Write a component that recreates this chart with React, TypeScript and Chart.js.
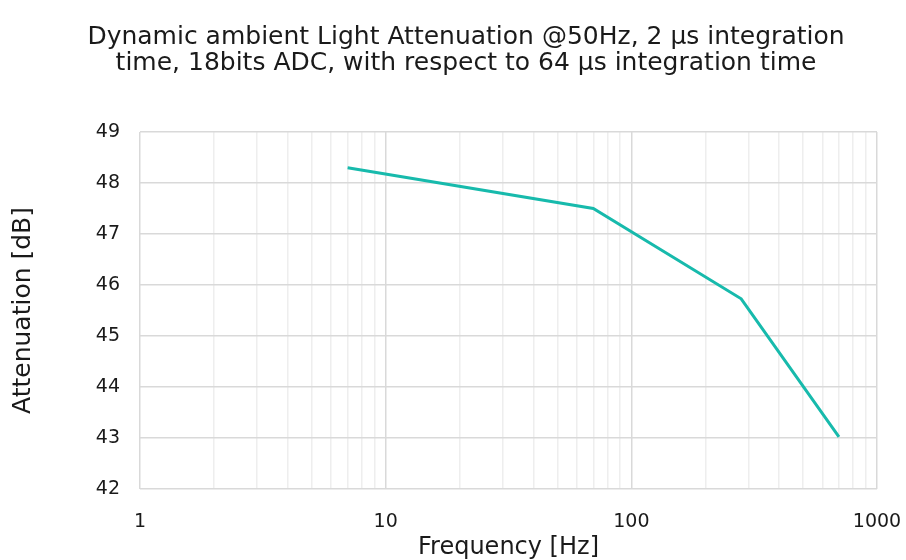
import React, { useEffect, useRef } from "react";
import { Chart, registerables } from "chart.js";

Chart.register(...registerables);

const frequencies = [7, 70, 280, 700];
const attenuation = [48.3, 47.5, 45.73, 43.02];
const titleLines = [
  "Dynamic ambient Light Attenuation @50Hz, 2 µs integration",
  "time, 18bits ADC, with respect to 64 µs integration time",
];
const xTitle = "Frequency [Hz]";
const yTitle = "Attenuation [dB]";
const xMin = 1;
const xMax = 1000;
const yMin = 42;
const yMax = 49;

const FONT = "'DejaVu Sans', 'Noto Sans', sans-serif";
const LINE_COLOR = "#17baac";
const TEXT_COLOR = "#1a1a1a";

function logTicks(min: number, max: number): number[] {
  const out: number[] = [];
  for (let p = min; p < max; p *= 10) {
    for (let s = 1; s <= 9; s++) out.push(p * s);
  }
  out.push(max);
  return out;
}

const isDecade = (v: number) => Math.abs(Math.log10(v) - Math.round(Math.log10(v))) < 1e-9;

const titleShift = {
  id: "titleShift",
  afterLayout(chart: any) {
    const tb = chart.titleBlock;
    if (tb) {
      tb.left += 26;
    }
  },
};

export default function App() {
  const ref = useRef<HTMLCanvasElement | null>(null);

  useEffect(() => {
    document.body.style.margin = "0";
    if (!ref.current) return;
    const chart = new Chart(ref.current, {
      type: "line",
      data: {
        datasets: [
          {
            data: frequencies.map((f, i) => ({ x: f, y: attenuation[i] })),
            borderColor: LINE_COLOR,
            backgroundColor: LINE_COLOR,
            borderWidth: 3,
            pointRadius: 0,
            tension: 0,
          },
        ],
      },
      options: {
        animation: false,
        responsive: true,
        maintainAspectRatio: false,
        layout: { padding: { top: 0, right: 0, bottom: 0, left: 0 } },
        plugins: {
          legend: { display: false },
          tooltip: { enabled: false },
          title: {
            display: true,
            text: titleLines,
            color: TEXT_COLOR,
            font: { family: FONT, size: 25, weight: "normal", lineHeight: 1.04 },
            padding: { top: 24, bottom: 56 },
          },
        },
        scales: {
          x: {
            type: "logarithmic",
            min: xMin,
            max: xMax,
            afterBuildTicks: (scale: any) => {
              scale.ticks = logTicks(xMin, xMax).map((v) => ({ value: v, major: isDecade(v) }));
            },
            afterFit: (scale: any) => {
              scale.height = 71;
              scale.paddingRight = 29;
            },
            ticks: {
              autoSkip: false,
              maxRotation: 0,
              padding: 22,
              color: TEXT_COLOR,
              font: { family: FONT, size: 19 },
              callback: (v: any) => (isDecade(Number(v)) ? String(Number(v)) : ""),
            },
            grid: {
              color: (ctx: any) => (ctx.tick && isDecade(ctx.tick.value) ? "#d9d9d9" : "#eeeeee"),
              lineWidth: 1.5,
              drawTicks: false,
            },
            border: { display: false },
            title: {
              display: true,
              text: xTitle,
              color: TEXT_COLOR,
              font: { family: FONT, size: 24, lineHeight: 1.0 },
              padding: { top: 0, bottom: 0 },
            },
          },
          y: {
            type: "linear",
            min: yMin,
            max: yMax,
            afterFit: (scale: any) => {
              scale.width = 140;
            },
            ticks: {
              stepSize: 1,
              padding: 20,
              color: TEXT_COLOR,
              font: { family: FONT, size: 19 },
            },
            grid: {
              color: "#d9d9d9",
              lineWidth: 1.5,
              drawTicks: false,
            },
            border: { display: false },
            title: {
              display: true,
              text: yTitle,
              color: TEXT_COLOR,
              font: { family: FONT, size: 25, lineHeight: 1.2 },
              padding: { top: 8, bottom: 0 },
            },
          },
        },
      },
      plugins: [titleShift],
    });
    return () => chart.destroy();
  }, []);

  return (
    <div style={{ width: 906, height: 560, position: "relative" }}>
      <canvas ref={ref} />
    </div>
  );
}
